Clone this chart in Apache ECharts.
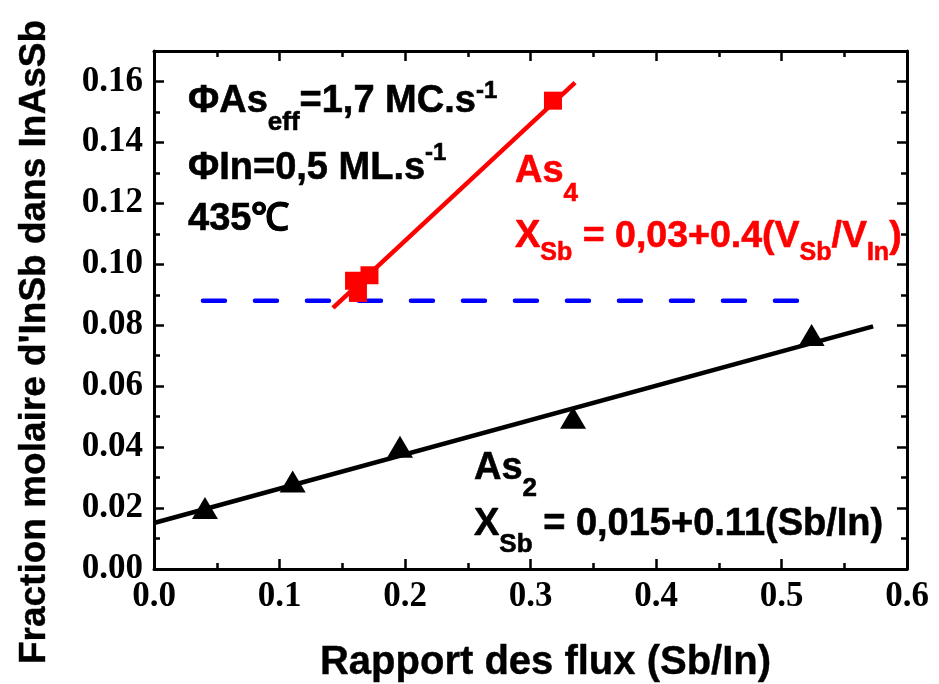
<!DOCTYPE html>
<html><head><meta charset="utf-8">
<script src="https://cdn.jsdelivr.net/npm/echarts@6/dist/echarts.min.js"></script>
<style>html,body{margin:0;padding:0;background:#fff}#c{width:939px;height:684px}</style>
</head><body><div id="c"></div>
<script>
// ---- data ----
const xMajorTicks = [0, 0.1, 0.2, 0.3, 0.4, 0.5, 0.6];
const yMajorTicks = [0, 0.02, 0.04, 0.06, 0.08, 0.10, 0.12, 0.14, 0.16];
const yAllTicks = [0, 0.01, 0.02, 0.03, 0.04, 0.05, 0.06, 0.07, 0.08, 0.09, 0.10, 0.11, 0.12, 0.13, 0.14, 0.15, 0.16, 0.17];
const as2X = [0.0406, 0.1105, 0.196, 0.3339, 0.524];
const as2Y = [0.0200, 0.0287, 0.0401, 0.0496, 0.0768];
const as4X = [0.1594, 0.1717, 0.1625, 0.3179];
const as4Y = [0.0946, 0.0964, 0.0906, 0.1537];
const as2FitX = [0, 0.573];
const as2FitY = [0.0151, 0.0796];
const as4FitX = [0.1426, 0.3355];
const as4FitY = [0.0857, 0.1596];
const refX = [0.039, 0.517];
const refY = [0.088, 0.088];
const xTitle = 'Rapport des flux (Sb/In)';
const yTitle = "Fraction molaire d'InSb dans InAsSb";

const zip = (a, b) => a.map((v, i) => [v, b[i]]);

// annotations: [x, baseline, color, parts]; part = [text, size, dy]
const annotations = [
  [188, 115, '#000', [['ΦAs', 38, 0], ['eff', 26, 17], ['=1,7 MC.s', 38, 0], ['-1', 24, -15]]],
  [188, 182, '#000', [['ΦIn=0,5 ML.s', 38, 0], ['-1', 24, -20]]],
  [188, 233, '#000', [['435℃', 38, 0]]],
  [515, 185, '#f00', [['As', 38, 0], ['4', 26, 18]]],
  [515, 250, '#f00', [['X', 38, 0], ['Sb', 25, 12], [' = 0,03+0.4(V', 37.5, 0], ['Sb', 25, 12], ['/V', 37.5, 0], ['In', 25, 12], [')', 37.5, 0]]],
  [474, 482, '#000', [['As', 38, 0], ['2', 26, 16]]],
  [474, 538, '#000', [['X', 38, 0], ['Sb', 26, 16], [' = 0,015+0.11(Sb/In)', 38, 0]]]
];

const FONT = 'Liberation Sans';
const mctx = document.createElement('canvas').getContext('2d');
function measure(t, s) { mctx.font = 'bold ' + s + 'px "' + FONT + '"'; return mctx.measureText(t).width; }
const graphics = [];
annotations.forEach(([x0, base, color, parts]) => {
  let x = x0;
  parts.forEach(([t, s, dy]) => {
    graphics.push({
      type: 'text', x: x, y: base + dy - 0.3465 * s, silent: true, z: 10,
      style: { text: t, fill: color, stroke: color, lineWidth: 0.6,
        font: 'bold ' + s + 'px "' + FONT + '"', verticalAlign: 'middle', align: 'left' }
    });
    x += measure(t, s);
  });
});
// rotated y-axis title
graphics.push({
  type: 'text', x: 35, y: 342, rotation: Math.PI / 2, silent: true, z: 10,
  style: { text: yTitle, fill: '#000', stroke: '#000', lineWidth: 0.4,
    font: 'bold 37px "' + FONT + '"', align: 'center', verticalAlign: 'middle' }
});

const axisLineStyle = { color: '#000', width: 3 };
const tickStyle = { color: '#000', width: 2.5 };
const tickLabel = { fontFamily: 'Liberation Serif', fontWeight: 'bold', fontSize: 35, color: '#000' };

function xAxisDef(pos, showLabel) {
  return {
    type: 'value', position: pos, min: 0, max: 0.6, interval: 0.1,
    axisLine: { show: true, onZero: false, lineStyle: axisLineStyle },
    axisTick: { show: true, inside: true, length: 10, lineStyle: tickStyle },
    minorTick: { show: true, splitNumber: 2, length: 6, lineStyle: tickStyle },
    splitLine: { show: false }, minorSplitLine: { show: false },
    axisLabel: Object.assign({ show: showLabel, margin: 10, formatter: v => v.toFixed(1) }, tickLabel),
    name: showLabel ? xTitle : '', nameLocation: 'middle', nameGap: 74,
    nameTextStyle: { fontFamily: FONT, fontWeight: 'bold', fontSize: 40, color: '#000', padding: [0, 0, 0, 30],
      textBorderColor: '#000', textBorderWidth: 0.4 }
  };
}
function yAxisDef(pos, major, showLabel) {
  return {
    type: 'value', position: pos, min: 0, max: 0.17, interval: 0.01,
    axisLine: { show: major, onZero: false, lineStyle: axisLineStyle },
    axisTick: { show: true, inside: true, length: major ? 10 : 6, lineStyle: tickStyle,
      customValues: major ? yMajorTicks : yAllTicks },
    splitLine: { show: false },
    axisLabel: Object.assign({ show: showLabel, margin: 11, customValues: yMajorTicks, formatter: v => v.toFixed(2) }, tickLabel)
  };
}

const chart = echarts.init(document.getElementById('c'), null, { renderer: 'canvas' });
chart.setOption({
  animation: false,
  backgroundColor: '#fff',
  grid: { left: 154, right: 32, top: 51, bottom: 115, containLabel: false, outerBoundsMode: 'none' },
  xAxis: [xAxisDef('bottom', true), xAxisDef('top', false)],
  yAxis: [yAxisDef('left', true, true), yAxisDef('left', false, false), yAxisDef('right', true, false), yAxisDef('right', false, false)],
  series: [
    { type: 'line', data: zip(refX, refY), showSymbol: false, z: 2,
      lineStyle: { color: '#0000ff', width: 4.5, type: [22, 30], cap: 'round' } },
    { type: 'line', data: zip(as2FitX, as2FitY), showSymbol: false, z: 3,
      lineStyle: { color: '#000', width: 4.5 } },
    { type: 'line', data: zip(as4FitX, as4FitY), showSymbol: false, z: 3,
      lineStyle: { color: '#f00', width: 4.5 } },
    { type: 'scatter', data: zip(as2X, as2Y), symbol: 'triangle', symbolSize: [26, 22], z: 4,
      itemStyle: { color: '#000', opacity: 1 } },
    { type: 'scatter', data: zip(as4X, as4Y), symbol: 'rect', symbolSize: 18, z: 4,
      itemStyle: { color: '#f00', opacity: 1 } }
  ],
  graphic: graphics
});
</script></body></html>
